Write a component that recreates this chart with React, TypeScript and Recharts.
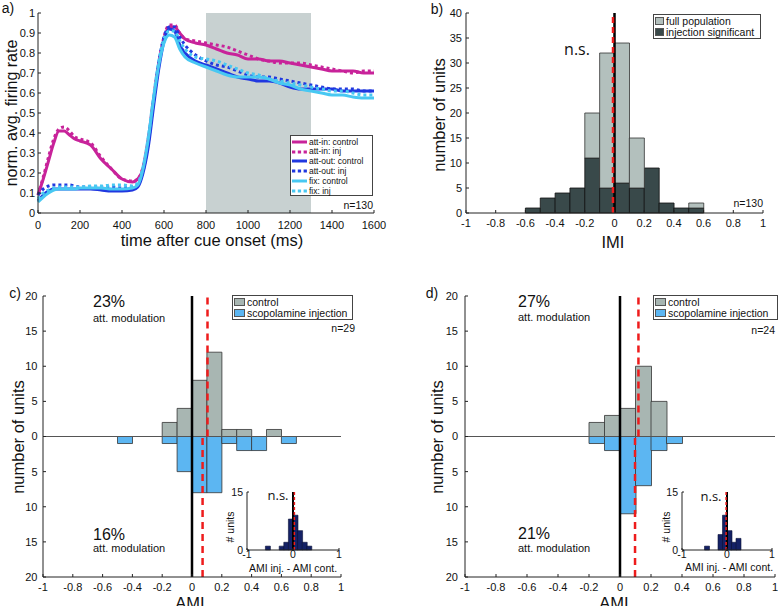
import React from "react";
import { LineChart, Line, XAxis, YAxis, ReferenceArea, ReferenceLine, BarChart, Bar } from "recharts";

const FONT = "'Liberation Sans', Arial, Helvetica, sans-serif";
const NS_FONT = "'Open Sans', 'Liberation Sans', sans-serif";

// a) normalised average firing rate after cue onset
const timeMs = [0, 25, 50, 75, 100, 125, 150, 175, 200, 250, 300, 350, 400, 450, 475, 500, 525, 550, 575, 600, 625, 650, 675, 700, 750, 800, 850, 900, 950, 1000, 1050, 1100, 1150, 1200, 1250, 1300, 1350, 1400, 1450, 1500, 1550, 1600];
const attInCtrl = [0.09, 0.17, 0.26, 0.35, 0.41, 0.41, 0.39, 0.37, 0.36, 0.34, 0.27, 0.22, 0.17, 0.155, 0.17, 0.22, 0.36, 0.56, 0.74, 0.87, 0.93, 0.93, 0.9, 0.87, 0.85, 0.84, 0.82, 0.8, 0.79, 0.77, 0.77, 0.76, 0.76, 0.75, 0.74, 0.73, 0.72, 0.71, 0.71, 0.71, 0.7, 0.7];
const attInInj = [0.09, 0.18, 0.28, 0.37, 0.42, 0.43, 0.41, 0.38, 0.37, 0.35, 0.28, 0.22, 0.17, 0.16, 0.17, 0.23, 0.37, 0.57, 0.75, 0.88, 0.94, 0.94, 0.9, 0.87, 0.86, 0.85, 0.84, 0.83, 0.81, 0.79, 0.77, 0.76, 0.75, 0.75, 0.75, 0.74, 0.73, 0.72, 0.71, 0.7, 0.71, 0.71];
const attOutCtrl = [0.06, 0.09, 0.11, 0.12, 0.12, 0.12, 0.12, 0.12, 0.12, 0.12, 0.115, 0.11, 0.11, 0.115, 0.13, 0.2, 0.33, 0.53, 0.72, 0.86, 0.92, 0.91, 0.84, 0.8, 0.76, 0.74, 0.72, 0.7, 0.68, 0.67, 0.66, 0.66, 0.65, 0.63, 0.62, 0.62, 0.62, 0.62, 0.61, 0.61, 0.61, 0.61];
const attOutInj = [0.09, 0.12, 0.135, 0.14, 0.14, 0.14, 0.14, 0.135, 0.13, 0.13, 0.13, 0.13, 0.125, 0.13, 0.14, 0.21, 0.35, 0.56, 0.75, 0.88, 0.93, 0.93, 0.88, 0.84, 0.79, 0.76, 0.74, 0.73, 0.71, 0.69, 0.68, 0.68, 0.67, 0.66, 0.65, 0.64, 0.63, 0.62, 0.62, 0.62, 0.61, 0.61];
const fixCtrl = [0.055, 0.08, 0.1, 0.115, 0.12, 0.12, 0.12, 0.12, 0.125, 0.125, 0.125, 0.12, 0.12, 0.125, 0.14, 0.22, 0.37, 0.57, 0.74, 0.85, 0.89, 0.88, 0.82, 0.78, 0.75, 0.73, 0.71, 0.69, 0.68, 0.68, 0.68, 0.67, 0.65, 0.64, 0.62, 0.61, 0.6, 0.59, 0.59, 0.58, 0.575, 0.575];
const fixInj = [0.07, 0.1, 0.115, 0.125, 0.13, 0.13, 0.13, 0.13, 0.13, 0.135, 0.135, 0.14, 0.14, 0.135, 0.15, 0.23, 0.38, 0.58, 0.76, 0.87, 0.91, 0.91, 0.86, 0.82, 0.78, 0.77, 0.76, 0.74, 0.72, 0.7, 0.69, 0.67, 0.66, 0.65, 0.64, 0.63, 0.62, 0.61, 0.61, 0.6, 0.59, 0.59];
const timeTicks = [0, 200, 400, 600, 800, 1000, 1200, 1400, 1600];
const rateTicks = [0, 0.1, 0.2, 0.3, 0.4, 0.5, 0.6, 0.7, 0.8, 0.9, 1];

// histograms, bins 0.1 wide (left edges)
const binStart = [-1, -0.9, -0.8, -0.7, -0.6, -0.5, -0.4, -0.3, -0.2, -0.1, 0, 0.1, 0.2, 0.3, 0.4, 0.5, 0.6, 0.7, 0.8, 0.9];
// b) IMI
const imiFull = [0, 0, 0, 0, 1, 3, 4, 5, 20, 32, 34, 15, 9, 2, 1, 2, 0, 0, 0, 0];
const imiSig = [0, 0, 0, 0, 1, 3, 4, 5, 11, 5, 6, 5, 9, 2, 1, 1, 0, 0, 0, 0];
const imiMean = -0.01;
// c) AMI
const amiCtrlC = [0, 0, 0, 0, 0, 0, 0, 0, 2, 4, 8, 12, 1, 1, 0, 1, 0, 0, 0, 0];
const amiInjC = [0, 0, 0, 0, 0, 1, 0, 0, 1, 5, 8, 8, 1, 2, 2, 0, 1, 0, 0, 0];
const diffC = [0, 0, 0, 0, 1, 0, 0, 1, 2, 8, 9, 5, 2, 1, 0, 0, 0, 0, 0, 0];
const meanCtrlC = 0.104;
const meanInjC = 0.071;
const meanDiffC = 0.03;
// d) AMI
const amiCtrlD = [0, 0, 0, 0, 0, 0, 0, 0, 2, 3, 4, 10, 5, 0, 0, 0, 0, 0, 0, 0];
const amiInjD = [0, 0, 0, 0, 0, 0, 0, 0, 1, 2, 11, 7, 2, 1, 0, 0, 0, 0, 0, 0];
const diffD = [0, 0, 0, 0, 0, 1, 0, 0, 4, 9, 5, 2, 3, 0, 0, 0, 0, 0, 0, 0];
const meanCtrlD = 0.119;
const meanInjD = 0.097;
const meanDiffD = -0.02;

const amiTicks = [-1, -0.8, -0.6, -0.4, -0.2, 0, 0.2, 0.4, 0.6, 0.8, 1];
const countTicksB = [0, 5, 10, 15, 20, 25, 30, 35, 40];
const countTicksCD = [-20, -15, -10, -5, 0, 5, 10, 15, 20];

const MAGENTA = "#c8239a";
const BLUE = "#2038e0";
const CYAN = "#48c8f2";
const RED = "#ee1c1c";
const AXIS = "#222";

const series = [
  { key: "attInCtrl", name: "att-in: control", color: MAGENTA, dotted: false, values: attInCtrl },
  { key: "attInInj", name: "att-in: inj", color: MAGENTA, dotted: true, values: attInInj },
  { key: "attOutCtrl", name: "att-out: control", color: BLUE, dotted: false, values: attOutCtrl },
  { key: "attOutInj", name: "att-out: inj", color: BLUE, dotted: true, values: attOutInj },
  { key: "fixCtrl", name: "fix: control", color: CYAN, dotted: false, values: fixCtrl },
  { key: "fixInj", name: "fix: inj", color: CYAN, dotted: true, values: fixInj },
];

const rateData = timeMs.map((t, i) => {
  const row: Record<string, number> = { t };
  series.forEach((s) => (row[s.key] = s.values[i]));
  return row;
});

const tickStyle = { fontSize: 11, fill: "#111", fontFamily: FONT };

function Txt({ x, y, size = 11, anchor = "middle", rotate = false, font = FONT, children }: any) {
  const tx = anchor === "middle" ? "-50%" : anchor === "end" ? "-100%" : "0";
  return (
    <div
      style={{
        position: "absolute",
        left: x,
        top: y,
        fontSize: size,
        fontFamily: font,
        lineHeight: 1,
        whiteSpace: "nowrap",
        color: "#111",
        transform: `translate(${tx}, -50%)${rotate ? " rotate(-90deg)" : ""}`,
      }}
    >
      {children}
    </div>
  );
}

function RateLegend() {
  return (
    <div style={{ position: "absolute", left: 290, top: 135, width: 83, height: 61, border: "1px solid #444", background: "#fff", boxSizing: "border-box", paddingTop: 1 }}>
      {series.map((s) => (
        <div key={s.key} style={{ height: 9.8, display: "flex", alignItems: "center" }}>
          <svg width={17} height={6} style={{ marginLeft: 1 }}>
            <line x1={0} y1={3} x2={15} y2={3} stroke={s.color} strokeWidth={3} strokeDasharray={s.dotted ? "3.3 2.5" : undefined} />
          </svg>
          <span style={{ fontSize: 8.5, fontFamily: FONT, color: "#111", lineHeight: 1, whiteSpace: "nowrap" }}>{s.name}</span>
        </div>
      ))}
    </div>
  );
}

function BoxLegend({ left, top, width, items, swatchW }: any) {
  return (
    <div style={{ position: "absolute", left, top, width, border: "1px solid #444", background: "#fff", boxSizing: "border-box", padding: "1px 0 1px 1px" }}>
      {items.map((it: any) => (
        <div key={it.label} style={{ height: 10.5, display: "flex", alignItems: "center" }}>
          <div style={{ width: swatchW, height: 8, background: it.color, border: "0.5px solid #555", boxSizing: "border-box", marginRight: 2, flexShrink: 0 }} />
          <span style={{ fontSize: 10.5, fontFamily: FONT, color: "#111", lineHeight: 1, whiteSpace: "nowrap" }}>{it.label}</span>
        </div>
      ))}
    </div>
  );
}

function RatePanel() {
  return (
    <div style={{ position: "absolute", left: 0, top: 0 }}>
      <LineChart width={390} height={260} data={rateData} margin={{ top: 13, right: 16, left: 0, bottom: 27 }}>
        <XAxis dataKey="t" type="number" domain={[0, 1600]} ticks={timeTicks} interval={0} height={20} tickSize={-3} tickMargin={11} tick={tickStyle} stroke={AXIS} />
        <YAxis type="number" domain={[0, 1]} ticks={rateTicks} interval={0} width={38} tickSize={-3} tickMargin={6} tick={tickStyle} stroke={AXIS} />
        <ReferenceArea x1={800} x2={1300} y1={0} y2={1} fill="#c8d1d1" fillOpacity={1} stroke="none" />
        {series.map((s) => (
          <Line
            key={s.key}
            dataKey={s.key}
            type="monotone"
            stroke={s.color}
            strokeWidth={3}
            strokeDasharray={s.dotted ? "3 3" : undefined}
            dot={false}
            isAnimationActive={false}
          />
        ))}
      </LineChart>
    </div>
  );
}

function ImiPanel() {
  const data = binStart.map((b, i) => ({ bin: b, mid: b + 0.05, sig: imiSig[i], rest: imiFull[i] - imiSig[i] }));
  return (
    <div style={{ position: "absolute", left: 390, top: 0 }}>
      <BarChart width={388} height={260} data={data} margin={{ top: 13, right: 15, left: 0, bottom: 27 }} barCategoryGap={0} barGap={0}>
        <XAxis xAxisId="n" type="number" dataKey="mid" domain={[-1, 1]} ticks={amiTicks} interval={0} height={20} tickSize={-3} tickMargin={9} tick={tickStyle} stroke={AXIS} />
        <XAxis dataKey="bin" hide height={0} />
        <YAxis type="number" domain={[0, 40]} ticks={countTicksB} interval={0} width={76} tickSize={-3} tickMargin={7} tick={tickStyle} stroke={AXIS} />
        <Bar dataKey="sig" stackId="s" fill="#39494a" stroke="#111" strokeWidth={0.8} isAnimationActive={false} />
        <Bar dataKey="rest" stackId="s" fill="#b3c0bd" stroke="#333" strokeWidth={0.8} isAnimationActive={false} />
        <ReferenceLine xAxisId="n" x={0} stroke="#000" strokeWidth={2.5} />
        <ReferenceLine xAxisId="n" x={imiMean} stroke={RED} strokeWidth={2.5} strokeDasharray="6 4" />
      </BarChart>
    </div>
  );
}

function AmiPanel({ left, width, marginLeft, yAxisWidth, marginRight, tickMarginY, ctrl, inj, meanCtrl, meanInj }: any) {
  const data = binStart.map((b, i) => ({ bin: b, mid: b + 0.05, ctrl: ctrl[i], inj: -inj[i] }));
  return (
    <div style={{ position: "absolute", left, top: 280 }}>
      <BarChart width={width} height={326} data={data} margin={{ top: 16, right: marginRight, left: marginLeft, bottom: 9 }} barCategoryGap={0} barGap={0} stackOffset="sign">
        <XAxis xAxisId="n" type="number" dataKey="mid" domain={[-1, 1]} ticks={amiTicks} interval={0} height={20} tickSize={-3} tickMargin={9} tick={tickStyle} stroke={AXIS} />
        <XAxis dataKey="bin" hide height={0} />
        <YAxis type="number" domain={[-20, 20]} ticks={countTicksCD} interval={0} width={yAxisWidth} tickSize={-3} tickMargin={tickMarginY} tick={tickStyle} stroke={AXIS} tickFormatter={(v: number) => String(Math.abs(v))} />
        <Bar dataKey="ctrl" stackId="s" fill="#a8b6b2" stroke="#333" strokeWidth={0.8} isAnimationActive={false} />
        <Bar dataKey="inj" stackId="s" fill="#5cb6f2" stroke="#333" strokeWidth={0.8} isAnimationActive={false} />
        <ReferenceLine y={0} stroke="#555" strokeWidth={1} />
        <ReferenceLine xAxisId="n" x={0} stroke="#000" strokeWidth={2.5} />
        <ReferenceLine xAxisId="n" segment={[{ x: meanCtrl, y: 0 }, { x: meanCtrl, y: 20 }]} stroke={RED} strokeWidth={2.5} strokeDasharray="7 5" />
        <ReferenceLine xAxisId="n" segment={[{ x: meanInj, y: -20 }, { x: meanInj, y: 0 }]} stroke={RED} strokeWidth={2.5} strokeDasharray="7 5" />
      </BarChart>
    </div>
  );
}

function Inset({ left, width, marginRight, counts, mean }: any) {
  const data = binStart.map((b, i) => ({ bin: b, mid: b + 0.05, n: counts[i] }));
  const small = { ...tickStyle, fontSize: 10.5 };
  return (
    <div style={{ position: "absolute", left, top: 480 }}>
      <BarChart width={width} height={85} data={data} margin={{ top: 12, right: marginRight, left: 0, bottom: 3 }} barCategoryGap={0} barGap={0}>
        <XAxis xAxisId="n" type="number" dataKey="mid" domain={[-1, 1]} ticks={[-1, 0, 1]} interval={0} height={12} tickSize={-2} tickMargin={3} tick={small} stroke={AXIS} />
        <XAxis dataKey="bin" hide height={0} />
        <YAxis type="number" domain={[0, 15]} ticks={[0, 15]} interval={0} width={27} tickSize={-2} tickMargin={6} tick={small} stroke={AXIS} />
        <Bar dataKey="n" fill="#142166" stroke="#0a1035" strokeWidth={0.6} isAnimationActive={false} />
        <ReferenceLine xAxisId="n" x={0} stroke="#000" strokeWidth={2} />
        <ReferenceLine xAxisId="n" x={mean} stroke={RED} strokeWidth={1.5} strokeDasharray="3 2" />
      </BarChart>
    </div>
  );
}

const ctrlInjItems = [
  { label: "control", color: "#a8b6b2" },
  { label: "scopolamine injection", color: "#5cb6f2" },
];

export default function App() {
  return (
    <div style={{ position: "absolute", left: 0, top: 0, width: 778, height: 606, background: "#fff", overflow: "hidden", fontFamily: FONT }}>
      <RatePanel />
      <ImiPanel />
      <AmiPanel left={0} width={390} marginLeft={0} yAxisWidth={43} marginRight={49} tickMarginY={8.5} ctrl={amiCtrlC} inj={amiInjC} meanCtrl={meanCtrlC} meanInj={meanInjC} />
      <AmiPanel left={390} width={388} marginLeft={35} yAxisWidth={40} marginRight={3} tickMarginY={10} ctrl={amiCtrlD} inj={amiInjD} meanCtrl={meanCtrlD} meanInj={meanInjD} />
      <Inset left={220} width={130} marginRight={11} counts={diffC} mean={meanDiffC} />
      <Inset left={655} width={123} marginRight={6} counts={diffD} mean={meanDiffD} />

      {/* panel a */}
      <RateLegend />
      <Txt x={8} y={8} size={14}>a)</Txt>
      <Txt x={12} y={113} size={16} rotate>norm. avg. firing rate</Txt>
      <Txt x={212} y={240} size={16.5}>time after cue onset (ms)</Txt>
      <Txt x={373} y={205} size={10.5} anchor="end">n=130</Txt>

      {/* panel b */}
      <BoxLegend left={653} top={14} width={108} swatchW={9} items={[{ label: "full population", color: "#b3c0bd" }, { label: "injection significant", color: "#39494a" }]} />
      <Txt x={437} y={9} size={14}>b)</Txt>
      <Txt x={439} y={115} size={16.5} rotate>number of units</Txt>
      <Txt x={613} y={242} size={16.5}>IMI</Txt>
      <Txt x={577} y={49} size={16} font={NS_FONT}>n.s.</Txt>
      <Txt x={763} y={203} size={10.5} anchor="end">n=130</Txt>

      {/* panel c */}
      <BoxLegend left={232} top={295} width={121} swatchW={11} items={ctrlInjItems} />
      <Txt x={15} y={293} size={14}>c)</Txt>
      <Txt x={18} y={437} size={16.5} rotate>number of units</Txt>
      <Txt x={190} y={603} size={16.5}>AMI</Txt>
      <Txt x={93} y={302} size={16} anchor="start">23%</Txt>
      <Txt x={93} y={318} size={11} anchor="start">att. modulation</Txt>
      <Txt x={93} y={535} size={16} anchor="start">16%</Txt>
      <Txt x={93} y={548} size={11} anchor="start">att. modulation</Txt>
      <Txt x={355} y={328} size={10.5} anchor="end">n=29</Txt>
      <Txt x={278} y={495} size={13} font={NS_FONT}>n.s.</Txt>
      <Txt x={230} y={527} size={10.5} rotate># units</Txt>
      <Txt x={293} y={568} size={10.5}>AMI inj. - AMI cont.</Txt>

      {/* panel d */}
      <BoxLegend left={653} top={295} width={125} swatchW={11} items={ctrlInjItems} />
      <Txt x={432} y={293} size={14}>d)</Txt>
      <Txt x={437} y={437} size={16.5} rotate>number of units</Txt>
      <Txt x={614} y={603} size={16.5}>AMI</Txt>
      <Txt x={518} y={302} size={16} anchor="start">27%</Txt>
      <Txt x={518} y={317} size={11} anchor="start">att. modulation</Txt>
      <Txt x={518} y={534} size={16} anchor="start">21%</Txt>
      <Txt x={518} y={548} size={11} anchor="start">att. modulation</Txt>
      <Txt x={775} y={330} size={10.5} anchor="end">n=24</Txt>
      <Txt x={711} y={496} size={13} font={NS_FONT}>n.s.</Txt>
      <Txt x={666} y={527} size={10.5} rotate># units</Txt>
      <Txt x={729} y={567} size={10.5}>AMI inj. - AMI cont.</Txt>
    </div>
  );
}
